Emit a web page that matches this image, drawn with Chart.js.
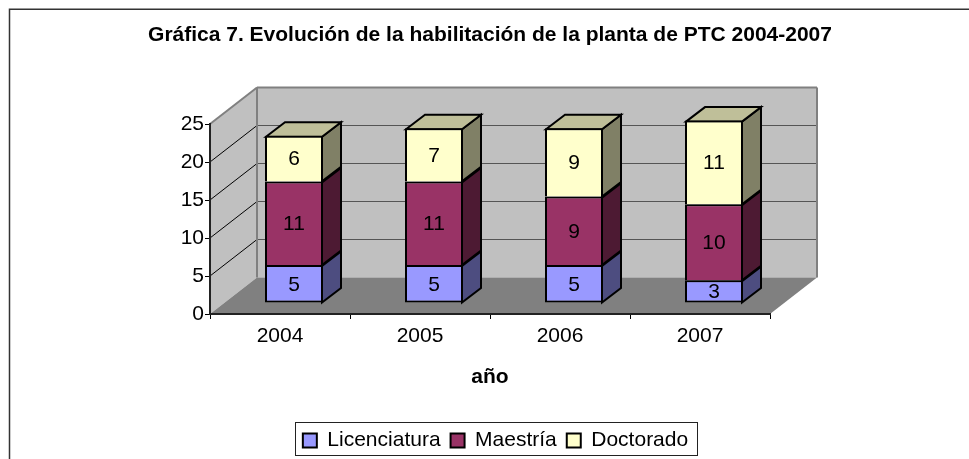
<!DOCTYPE html>
<html><head><meta charset="utf-8">
<style>html,body{margin:0;padding:0;background:#fff}#c{display:block}</style>
<script src="https://cdn.jsdelivr.net/npm/chart.js@4"></script>
</head><body>
<div style="width:969px;height:459px"><canvas id="c" width="969" height="459"></canvas></div>
<script>
const categories = ['2004','2005','2006','2007'];
const licenciatura = [5,5,5,3];
const maestria = [11,11,9,10];
const doctorado = [6,7,9,11];
const seriesNames = ['Licenciatura','Maestría','Doctorado'];
const yTicks = [0,5,10,15,20,25];

const FONT = '"Liberation Sans", Arial, sans-serif';
const fills = ['#9999FF','#993366','#FFFFCC'];
const sides = ['#4D4D80','#4D1A33','#808066'];
const topFace = '#BFBF99';
const WALL = {dx:47, dy:-36.5};
const BAR_SHIFT = {dx:14, dy:-11};
const BAR_DEPTH = {dx:19, dy:-14.5};
const LEGEND_DROP = 5;

function poly(ctx, pts, fill, stroke, lw){
  ctx.beginPath();
  pts.forEach((p,i)=> i? ctx.lineTo(p[0],p[1]) : ctx.moveTo(p[0],p[1]));
  ctx.closePath();
  if(fill){ctx.fillStyle=fill;ctx.fill();}
  if(stroke){ctx.strokeStyle=stroke;ctx.lineWidth=lw;ctx.lineJoin='miter';ctx.stroke();}
}
function line(ctx,x0,y0,x1,y1,c,w){
  ctx.beginPath();ctx.moveTo(x0,y0);ctx.lineTo(x1,y1);ctx.strokeStyle=c;ctx.lineWidth=w;ctx.stroke();
}
const scene = {
  id:'scene',
  afterLayout(chart){
    chart.titleBlock.left=0; chart.titleBlock.right=980;
    chart.legend.left=22; chart.legend.right=969;
    chart.legend.top+=LEGEND_DROP; chart.legend.bottom+=LEGEND_DROP;
  },
  beforeDraw(chart){
    const ctx=chart.ctx, a=chart.chartArea, y=chart.scales.y;
    ctx.save();
    // frame: only the left and top edges are in view
    ctx.strokeStyle='#333'; ctx.lineWidth=1.5;
    ctx.beginPath();ctx.moveTo(9.5,459);ctx.lineTo(9.5,9.25);ctx.lineTo(969,9.25);ctx.stroke();
    const {dx,dy}=WALL, b=a.bottom, t=a.top, l=a.left, r=a.right;
    poly(ctx,[[l,b],[l+dx,b+dy],[l+dx,t+dy],[l,t]],'#C0C0C0');
    poly(ctx,[[l+dx,b+dy],[r+dx,b+dy],[r+dx,t+dy],[l+dx,t+dy]],'#C0C0C0');
    poly(ctx,[[l,b],[r,b],[r+dx,b+dy],[l+dx,b+dy]],'#808080');
    yTicks.forEach(v=>{
      if(v===0||v===25) return;
      const p=y.getPixelForValue(v);
      line(ctx,l,p,l+dx,p+dy,'#000',1);
      line(ctx,l+dx,p+dy,r+dx,p+dy,'#555',1.2);
    });
    line(ctx,l,t,l+dx,t+dy,'#808080',2);
    line(ctx,l+dx,t+dy,r+dx,t+dy,'#808080',2);
    line(ctx,r+dx,t+dy,r+dx,b+dy,'#808080',2);
    line(ctx,l+dx,t+dy,l+dx,b+dy,'#808080',2);
    ctx.restore();
  },
  beforeDatasetDraw(chart,args){
    const ctx=chart.ctx, i=args.index;
    ctx.save();
    ctx.translate(BAR_SHIFT.dx,BAR_SHIFT.dy);
    const {dx,dy}=BAR_DEPTH;
    chart.getDatasetMeta(i).data.forEach(el=>{
      const xl=el.x-el.width/2+1, xr=el.x+el.width/2-1, yt=el.y+1, yb=el.base;
      poly(ctx,[[xr,yt],[xr+dx,yt+dy],[xr+dx,yb+dy],[xr,yb]],sides[i],'#000',2);
      if(i===chart.data.datasets.length-1)
        poly(ctx,[[xl,yt],[xl+dx,yt+dy],[xr+dx,yt+dy],[xr,yt]],topFace,'#000',2);
    });
  },
  afterDatasetDraw(chart){ chart.ctx.restore(); },
  afterDatasetsDraw(chart){
    const ctx=chart.ctx;
    ctx.save();
    ctx.font='21px '+FONT; ctx.fillStyle='#000'; ctx.textAlign='center'; ctx.textBaseline='middle';
    chart.data.datasets.forEach((ds,i)=>{
      chart.getDatasetMeta(i).data.forEach((el,j)=>{
        ctx.fillText(String(ds.data[j]),el.x+BAR_SHIFT.dx,(el.y+el.base)/2+BAR_SHIFT.dy+1);
      });
    });
    ctx.restore();
  },
  afterDraw(chart){
    const ctx=chart.ctx, lg=chart.legend;
    const cx=(lg.left+lg.right)/2;
    ctx.save();
    ctx.strokeStyle='#222'; ctx.lineWidth=1;
    const x0=Math.round(cx-201)+.5, x1=Math.round(cx+201)+.5;
    ctx.strokeRect(x0,422.5,x1-x0,33);
    ctx.restore();
  }
};
const wrap=(arr,i)=>({
  label:seriesNames[i], data:arr, backgroundColor:fills[i], borderColor:'#000',
  borderWidth:{top:2,left:2,right:2,bottom:i===0?2:0}, borderSkipped:false,
  categoryPercentage:1, barPercentage:58/140
});
new Chart(document.getElementById('c'),{
  type:'bar',
  data:{labels:categories,datasets:[wrap(licenciatura,0),wrap(maestria,1),wrap(doctorado,2)]},
  plugins:[scene],
  options:{
    responsive:false, animation:false,
    layout:{padding:{left:0,right:199,top:0,bottom:3}},
    plugins:{
      tooltip:{enabled:false},
      title:{display:true,text:'Gráfica 7. Evolución de la habilitación de la planta de PTC 2004-2007',
        color:'#000',font:{family:FONT,size:21,weight:'bold',lineHeight:1.2},padding:{top:23,bottom:75.8}},
      legend:{display:true,position:'bottom',
        labels:{color:'#000',font:{family:FONT,size:21},boxWidth:14,boxHeight:14,padding:10,
          generateLabels(chart){
            return chart.data.datasets.map((d,i)=>({text:d.label,fillStyle:fills[i],strokeStyle:'#000',lineWidth:2,datasetIndex:i,fontColor:'#000'}));
          }}}
    },
    scales:{
      x:{stacked:true,
        afterFit(s){s.height=101;},
        grid:{display:true,drawOnChartArea:false,drawTicks:true,tickLength:5,color:'#000',lineWidth:1},
        border:{display:true,color:'#222',width:2},
        ticks:{color:'#000',font:{family:FONT,size:21},padding:5,maxRotation:0},
        title:{display:true,text:'año',color:'#000',font:{family:FONT,size:21,weight:'bold'},padding:{top:0,bottom:25}}
      },
      y:{stacked:true,min:0,max:25,
        afterFit(s){s.width=210;},
        afterBuildTicks(s){s.ticks=yTicks.map(v=>({value:v}));},
        grid:{display:true,drawOnChartArea:false,drawTicks:true,tickLength:5,color:'#000',lineWidth:1},
        border:{display:true,color:'#222',width:2},
        ticks:{color:'#000',font:{family:FONT,size:21},padding:1}
      }
    }
  }
});
</script>
</body></html>
